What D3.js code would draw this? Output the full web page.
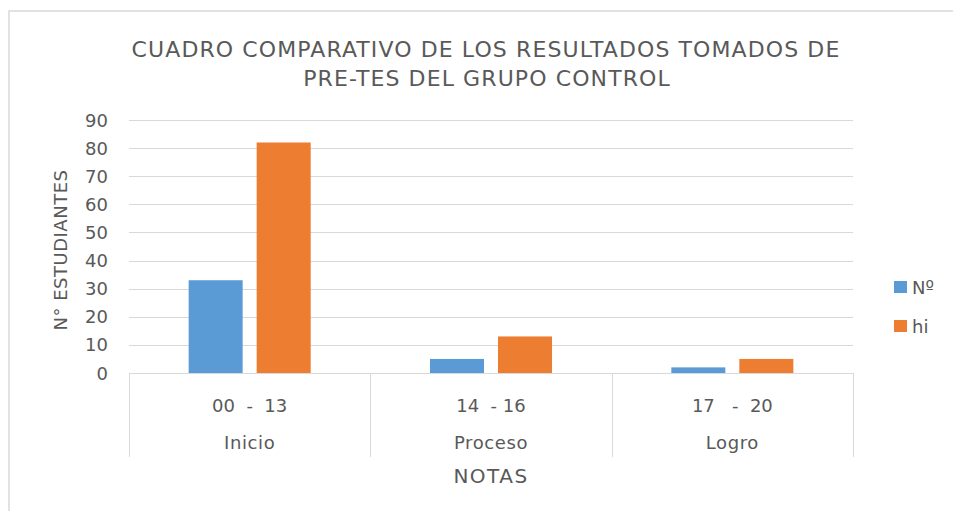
<!DOCTYPE html>
<html>
<head>
<meta charset="utf-8">
<script src="https://cdn.jsdelivr.net/npm/d3@7"></script>
<style>
  body { margin: 0; background: #fff; }
  svg { display: block; font-family: "DejaVu Sans", sans-serif; }
</style>
</head>
<body>
<div class="chart"></div>
<script>
// data
const rangos = ["00  -  13", "14  - 16", "17   -  20"]
const niveles = ["Inicio", "Proceso", "Logro"]
const series = ["Nº", "hi"]
const nValues = [33, 5, 2]
const hiValues = [82, 13, 5]
const yTicks = [0, 10, 20, 30, 40, 50, 60, 70, 80, 90]
const colors = ["#5B9BD5", "#ED7D31"]

const W = 953, H = 511
const plot = { left: 129, right: 853, top: 120, bottom: 373 }

const svg = d3.select(".chart").append("svg")
    .attr("width", W)
    .attr("height", H)

// chart frame
svg.append("rect")
    .attr("x", 9).attr("y", 11)
    .attr("width", W + 20).attr("height", H + 20)
    .attr("fill", "#fff")
    .attr("stroke", "#D9D9D9")
    .attr("stroke-width", 1.5)

// title
const title = svg.append("text")
    .attr("text-anchor", "middle")
    .attr("fill", "#595959")
    .style("font-size", "22px")
    .style("letter-spacing", "1.1px")
title.append("tspan").attr("x", 486).attr("y", 57).text("CUADRO COMPARATIVO DE LOS RESULTADOS TOMADOS DE")
title.append("tspan").attr("x", 487).attr("y", 86).text("PRE-TES DEL GRUPO CONTROL")

const x = d3.scaleBand()
    .domain(niveles)
    .range([plot.left, plot.right])

const x1 = d3.scaleBand()
    .domain(series)
    .range([0, x.bandwidth()])
    .paddingInner(0.206)
    .paddingOuter(0.877)

const y = d3.scaleLinear()
    .domain([0, 90])
    .range([plot.bottom, plot.top])

// gridlines
svg.append("g")
    .selectAll("line")
    .data(yTicks)
    .enter().append("line")
    .attr("x1", plot.left).attr("x2", plot.right)
    .attr("y1", d => Math.round(y(d)) + 0.5)
    .attr("y2", d => Math.round(y(d)) + 0.5)
    .attr("stroke", "#D9D9D9")
    .attr("stroke-width", 1)

// y axis labels
svg.append("g")
    .selectAll("text")
    .data(yTicks)
    .enter().append("text")
    .attr("x", 108)
    .attr("y", d => y(d) + 6.5)
    .attr("text-anchor", "end")
    .attr("fill", "#595959")
    .style("font-size", "18px")
    .text(d => d)

// bars
const rows = niveles.map((n, i) => ({ nivel: n, values: [nValues[i], hiValues[i]] }))

const groups = svg.append("g")
    .selectAll("g")
    .data(rows)
    .enter().append("g")
    .attr("transform", d => `translate(${x(d.nivel)},0)`)

groups.selectAll("rect")
    .data(d => d.values.map((v, j) => ({ key: series[j], value: v, j: j })))
    .enter().append("rect")
    .attr("x", d => x1(d.key))
    .attr("width", x1.bandwidth())
    .attr("y", d => y(d.value))
    .attr("height", d => y(0) - y(d.value))
    .attr("fill", d => colors[d.j])

// category box lines below axis
const boundaries = [plot.left, ...niveles.map(n => x(n) + x.bandwidth())]
svg.append("g")
    .selectAll("line")
    .data(boundaries)
    .enter().append("line")
    .attr("x1", d => Math.round(d) + 0.5).attr("x2", d => Math.round(d) + 0.5)
    .attr("y1", plot.bottom).attr("y2", 457)
    .attr("stroke", "#D9D9D9")

// category labels
const catLabels = svg.append("g")
    .selectAll("g")
    .data(niveles)
    .enter().append("g")
    .attr("transform", d => `translate(${x(d) + x.bandwidth() / 2},0)`)

catLabels.append("text")
    .attr("y", 412)
    .attr("text-anchor", "middle")
    .attr("fill", "#595959")
    .style("font-size", "18px")
    .style("white-space", "pre")
    .text((d, i) => rangos[i])

catLabels.append("text")
    .attr("y", 449)
    .attr("text-anchor", "middle")
    .attr("fill", "#595959")
    .style("font-size", "18px")
    .style("letter-spacing", "0.6px")
    .text(d => d)

// axis titles
svg.append("text")
    .attr("x", x(niveles[1]) + x.bandwidth() / 2)
    .attr("y", 483)
    .attr("text-anchor", "middle")
    .attr("fill", "#595959")
    .style("font-size", "20px")
    .style("letter-spacing", "1.5px")
    .text("NOTAS")

svg.append("text")
    .attr("transform", "translate(67,250) rotate(-90)")
    .attr("text-anchor", "middle")
    .attr("fill", "#595959")
    .style("font-size", "18px")
    .style("letter-spacing", "0.5px")
    .text("N° ESTUDIANTES")

// legend
const legend = svg.append("g")
    .selectAll("g")
    .data(series)
    .enter().append("g")
    .attr("transform", (d, i) => `translate(894,${281 + i * 39})`)

legend.append("rect")
    .attr("width", 13).attr("height", 12)
    .attr("fill", (d, i) => colors[i])

legend.append("text")
    .attr("x", 18).attr("y", 12.5)
    .attr("fill", "#595959")
    .style("font-size", "18px")
    .text(d => d)
</script>
</body>
</html>
